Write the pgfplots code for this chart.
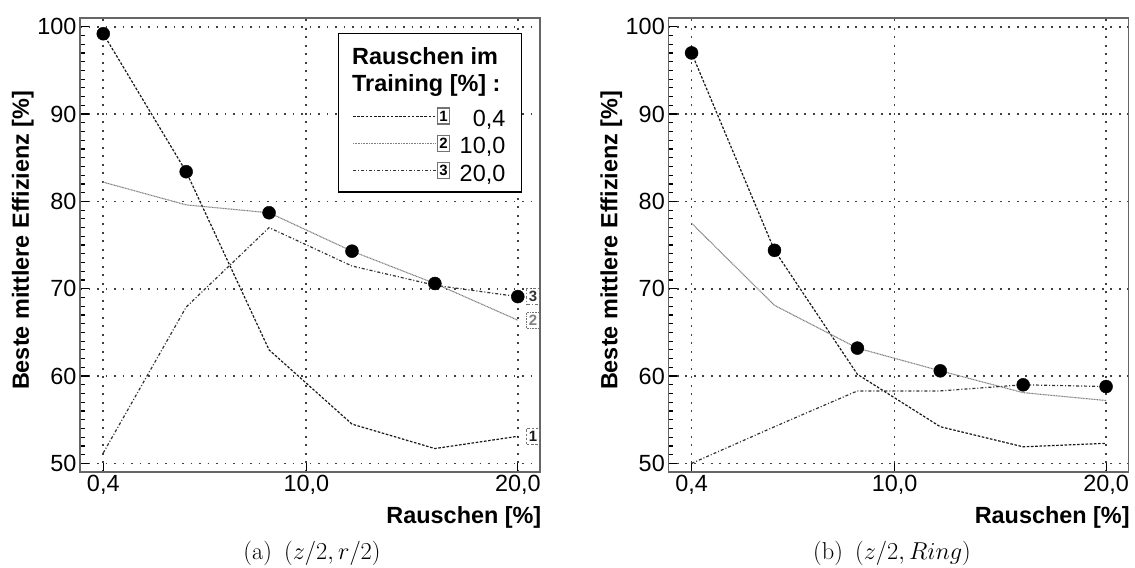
\RequirePackage{fix-cm}
\documentclass[border=0pt]{standalone}
\usepackage{fontspec}
\newfontfamily\arialish{Liberation Sans}
\usepackage{pgfplots}
\pgfplotsset{compat=1.18}
\usetikzlibrary{calc}

\newcommand\lab{\arialish\fontsize{23.5}{26}\selectfont}
\newcommand\labb{\arialish\bfseries\fontsize{23.5}{26}\selectfont}

\tikzset{
  numbox/.style={draw=black!55, line width=1.2bp, fill=white, inner sep=0pt,
    minimum width=12.5bp, minimum height=16bp,
    font=\arialish\bfseries\fontsize{15}{15}\selectfont},
  s1/.style={black!90, line width=1.2bp, dash pattern=on 2.6bp off 1.6bp},
  s2/.style={black!50, line width=1.1bp, dash pattern=on 1bp off 0.6bp},
  s3/.style={black!80, line width=1.2bp, dash pattern=on 3bp off 2bp on 1bp off 2bp},
  best/.style={only marks, mark=*, mark size=6.5bp, black},
}

\pgfplotsset{
  panel/.style={
    scale only axis, width=460bp, height=453.7bp, anchor=south west,
    xmin=-0.7, xmax=21.05, ymin=49.05, ymax=101,
    xtick={0.4,10,20}, xticklabels={{0,4},{10,0},{20,0}},
    ytick={50,60,70,80,90,100}, yticklabels={50,60,70,80,90,100},
    minor y tick num=9,
    tick align=inside, xtick pos=lower, ytick pos=left,
    major tick length=9bp, minor tick length=5bp,
    tick style={black, line width=1.2bp},
    grid=major,
    major grid style={black!75, line width=1.7bp, dash pattern=on 1.7bp off 6.8bp},
    axis line style={black!60, line width=1.6bp},
    tick label style={font=\lab},
    xlabel={Rauschen [\%]},
    xlabel style={font=\labb, at={(rel axis cs:1,0)}, anchor=base east,
      yshift=-51.6bp, xshift=1.5bp, inner sep=0pt},
    ylabel={Beste mittlere Effizienz [\%]},
    ylabel style={font=\labb, at={($(rel axis cs:0,0.51)+(-46bp,0)$)},
      anchor=south, inner sep=0pt},
    clip=false,
  }
}

\begin{document}
\begin{tikzpicture}
\useasboundingbox (0,0) rectangle (1135bp,568bp);

% (a) (z/2, r/2)
\begin{axis}[panel, at={(80bp,96.3bp)}]
  \addplot[s1] coordinates {(0.4,99.2) (4.32,83.4) (8.24,63.0) (12.16,54.5) (16.08,51.7) (20,53.1)}
    node[numbox, pos=1, anchor=west, xshift=8.5bp] {1};
  \addplot[s2] coordinates {(0.4,82.2) (4.32,79.6) (8.24,78.7) (12.16,74.3) (16.08,70.6) (20,66.4)}
    node[numbox, pos=1, anchor=west, xshift=8.5bp] {2};
  \addplot[s3] coordinates {(0.4,51.2) (4.32,67.9) (8.24,77.0) (12.16,72.6) (16.08,70.4) (20,69.1)}
    node[numbox, pos=1, anchor=west, xshift=8.5bp] {3};
  \addplot[best] coordinates {(0.4,99.2) (4.32,83.4) (8.24,78.7) (12.16,74.3) (16.08,70.6) (20,69.1)};
\end{axis}

% (b) (z/2, Ring)
\begin{axis}[panel, at={(668.3bp,96.3bp)}]
  \addplot[s1] coordinates {(0.4,97.0) (4.32,74.4) (8.24,60.2) (12.16,54.2) (16.08,51.9) (20,52.3)};
  \addplot[s2] coordinates {(0.4,77.5) (4.32,68.1) (8.24,63.2) (12.16,60.6) (16.08,58.1) (20,57.2)};
  \addplot[s3] coordinates {(0.4,50.0) (4.32,54.2) (8.24,58.3) (12.16,58.3) (16.08,59.0) (20,58.8)};
  \addplot[best] coordinates {(0.4,97.0) (4.32,74.4) (8.24,63.2) (12.16,60.6) (16.08,59.0) (20,58.8)};
\end{axis}

% legend of panel (a)
\draw[black, line width=1.5bp, fill=white] (338.3bp,534.7bp) rectangle (521.7bp,376bp);
\node[anchor=base west, inner sep=0pt] at (352bp,503bp) {\labb Rauschen im};
\node[anchor=base west, inner sep=0pt] at (352bp,476bp) {\labb Training [\%] :};
\draw[s1] (353bp,451.7bp) -- (436bp,451.7bp);
\node[numbox] at (443.5bp,452bp) {1};
\node[anchor=base east, inner sep=0pt] at (505.5bp,441.3bp) {\lab 0,4};
\draw[s2] (353bp,424.4bp) -- (436bp,424.4bp);
\node[numbox] at (443.5bp,424.7bp) {2};
\node[anchor=base east, inner sep=0pt] at (505.5bp,414bp) {\lab 10,0};
\draw[s3] (353bp,397.1bp) -- (436bp,397.1bp);
\node[numbox] at (443.5bp,397.4bp) {3};
\node[anchor=base east, inner sep=0pt] at (505.5bp,386.7bp) {\lab 20,0};

% sub-captions
\node[anchor=base, inner sep=0pt] at (312bp,8.5bp)
  {\fontsize{24.5}{29}\selectfont (a)\hspace{0.5em}$(z/2, r/2)$};
\node[anchor=base, inner sep=0pt] at (892bp,8.5bp)
  {\fontsize{24.5}{29}\selectfont (b)\hspace{0.5em}$(z/2, Ring)$};
\end{tikzpicture}
\end{document}
